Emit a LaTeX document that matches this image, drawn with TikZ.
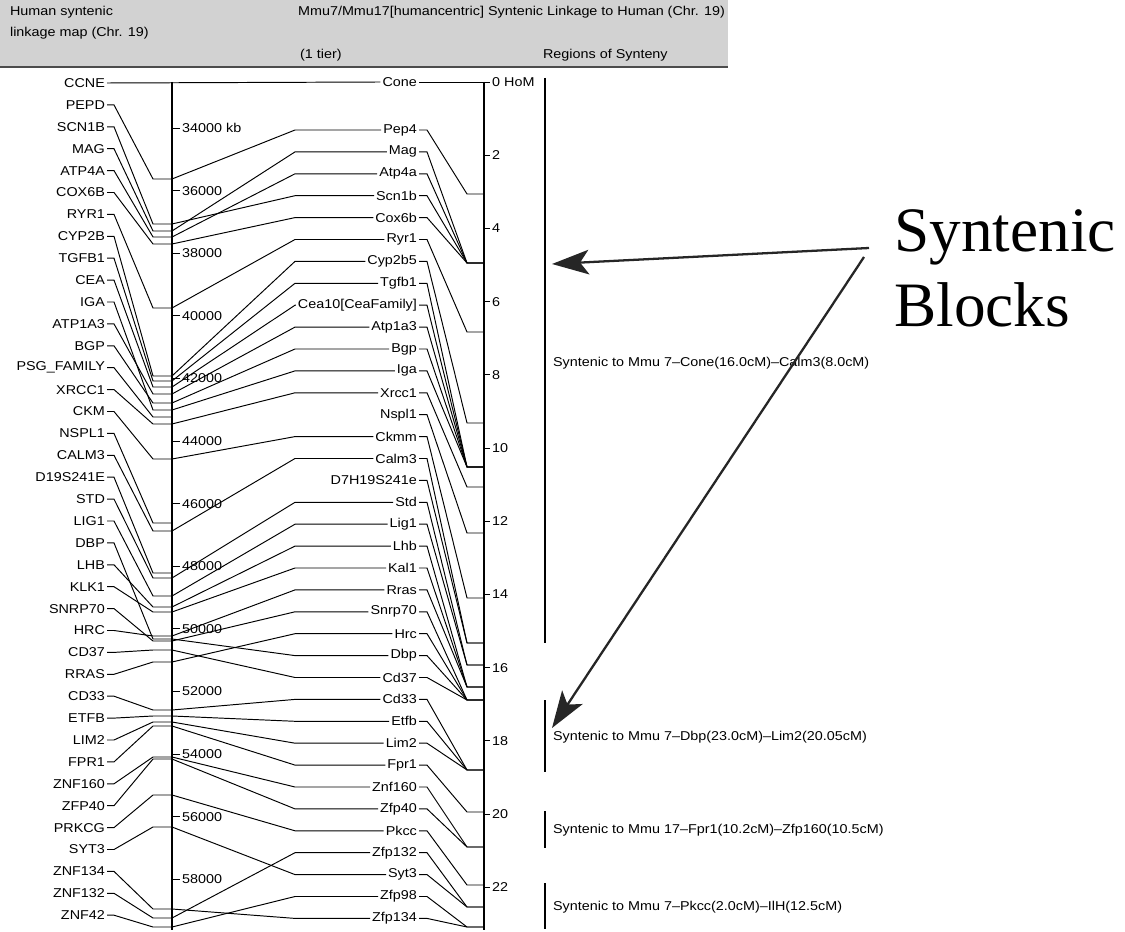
\documentclass[tikz,border=0pt]{standalone}
\usepackage{fontspec}
\setmainfont{Liberation Sans}[FakeStretch=1.12]
\newfontfamily\blockfont{Liberation Serif}
\usetikzlibrary{arrows.meta}

\begin{document}
\begin{tikzpicture}[x=0.02cm, y=-0.02cm,
    lab/.style={font=\fontsize{7.3}{8}\selectfont, inner sep=1pt},
    hdr/.style={font=\fontsize{7.3}{8}\selectfont, anchor=west, inner sep=1pt},
    tickl/.style={font=\fontsize{7.3}{8}\selectfont, anchor=west, inner sep=1pt},
    conn/.style={line width=0.55pt},
    chrom/.style={line width=1.6pt},
    >={Stealth[length=21pt, width=14pt, inset=5pt]}]
    \useasboundingbox (0,0) rectangle (1125,932);

    % Header
    \fill[gray!35] (0,0) rectangle (728,67);
    \draw[gray!60!black, line width=1pt] (0,67) -- (728,67);
    \node[hdr] (hdA) at (8,12) {Human syntenic};
    \node[hdr] (hdB) at (8,33) {linkage map (Chr. 19)};
    \node[hdr] (hdC) at (296,12) {Mmu7/Mmu17[humancentric] Syntenic Linkage to Human (Chr. 19)};
    \node[hdr] (hdD) at (298,55) {(1 tier)};
    \node[hdr] (hdE) at (541,55) {Regions of Synteny};

    % Axes
    \draw[chrom] (172,82) -- (172,930);
    \draw[chrom] (484,82) -- (484,930);
    \foreach \n in {0,...,12} {
        \pgfmathtruncatemacro\kb{34+2*\n}
        \draw[conn] (172,128+62.6*\n) -- ++(8,0) node[tickl] (kb\n) {\kb000\ifnum\n=0\ kb\fi};
    }
    \draw[conn] (484,82) -- ++(6,0) node[tickl] (cm0) {0 HoM};
    \foreach \n in {1,...,11} {
        \pgfmathtruncatemacro\cm{2*\n}
        \draw[conn] (484,82+73.2*\n) -- ++(6,0) node[tickl] (cm\n) {\cm};
    }

    \coordinate (kneeH) at (153,0);
    \coordinate (kneeL) at (295,0);
    \coordinate (kneeC) at (467,0);

    % Human genes
    \foreach \i/\gname/\ky in {1/CCNE/82, 2/PEPD/179, 3/SCN1B/224, 4/MAG/231, 5/ATP4A/237,
        6/COX6B/244, 7/RYR1/308, 8/CYP2B/376, 9/TGFB1/381, 10/CEA/387, 11/IGA/410,
        12/ATP1A3/394, 13/BGP/403, 14/PSG\_FAMILY/417, 15/XRCC1/424, 16/CKM/459,
        17/NSPL1/523, 18/CALM3/531, 19/D19S241E/573, 20/STD/578, 21/LIG1/596, 22/DBP/639,
        23/LHB/607, 24/KLK1/612, 25/SNRP70/641, 26/HRC/636, 27/CD37/650, 28/RRAS/662,
        29/CD33/710, 30/ETFB/716, 31/LIM2/722, 32/FPR1/726, 33/ZNF160/757, 34/ZFP40/759,
        35/PRKCG/795, 36/SYT3/827, 37/ZNF134/909, 38/ZNF132/918, 39/ZNF42/927} {
        \node[lab, anchor=east] (h\i) at (107,{83+21.9*(\i-1)}) {\gname};
        \coordinate (ka\i) at (172,\ky);
    }

    % Mouse genes
    \foreach \j/\gname/\cy in {1/Cone/82, 2/Pep4/194, 3/Mag/263, 4/Atp4a/263, 5/Scn1b/263,
        6/Cox6b/263, 7/Ryr1/332, 8/Cyp2b5/423, 9/Tgfb1/467, 10/{Cea10[CeaFamily]}/467,
        11/Atp1a3/467, 12/Bgp/467, 13/Iga/467, 14/Xrcc1/487, 15/Nspl1/533, 16/Ckmm/598,
        17/Calm3/643, 18/D7H19S241e/643, 19/Std/665, 20/Lig1/665, 21/Lhb/687, 22/Kal1/687,
        23/Rras/687, 24/Snrp70/700, 25/Hrc/700, 26/Dbp/700, 27/Cd37/700, 28/Cd33/770,
        29/Etfb/770, 30/Lim2/770, 31/Fpr1/812, 32/Znf160/847, 33/Zfp40/847, 34/Pkcc/885,
        35/Zfp132/907, 36/Syt3/907, 37/Zfp98/927, 38/Zfp134/927} {
        \pgfmathsetmacro\my{ifthenelse(\j==1,82,130+21.9*(\j-2))}
        \node[lab, anchor=east] (m\j) at (419,\my) {\gname};
        \coordinate (ca\j) at (484,\cy);
    }

    % Connectors
    \draw[conn] (h1.east) -- (m1.west);
    \draw[conn] (m1.east) -- (ca1);
    \foreach \i in {2,...,39}
        \draw[conn] (h\i.east) -- ++(7,0) -- (ka\i -| kneeH) -- (ka\i);
    \foreach \j in {2,...,38}
        \draw[conn] (m\j.east) -- ++(8,0) -- (ca\j -| kneeC) -- (ca\j);
    \foreach \i/\j in {2/2, 3/5, 4/3, 5/4, 6/6, 7/7, 8/8, 9/9, 10/10, 11/13, 12/11, 13/12,
        15/14, 16/16, 18/17, 20/19, 21/20, 22/26, 23/21, 24/22, 25/24, 26/23, 27/27,
        28/25, 29/28, 30/29, 31/30, 32/31, 33/32, 34/33, 35/34, 36/36, 37/38, 38/35, 39/37}
        \draw[conn] (ka\i) -- (m\j.west -| kneeL) -- (m\j.west);

    % Regions of synteny
    \draw[line width=1pt] (545,78) -- (545,643);
    \draw[line width=1pt] (545,700) -- (545,772);
    \draw[line width=1pt] (545,811) -- (545,848);
    \draw[line width=1pt] (545,883) -- (545,929);
    \node[lab, anchor=west] (syn1) at (551,363) {Syntenic to Mmu 7--Cone(16.0cM)--Calm3(8.0cM)};
    \node[lab, anchor=west] (syn2) at (551,737) {Syntenic to Mmu 7--Dbp(23.0cM)--Lim2(20.05cM)};
    \node[lab, anchor=west] (syn3) at (551,830) {Syntenic to Mmu 17--Fpr1(10.2cM)--Zfp160(10.5cM)};
    \node[lab, anchor=west] (syn4) at (551,907) {Syntenic to Mmu 7--Pkcc(2.0cM)--IlH(12.5cM)};

    % Blocks
    \node[font=\blockfont\fontsize{36}{40}\selectfont, anchor=base west, inner sep=0pt] (blk1) at (894,252) {Syntenic};
    \node[font=\blockfont\fontsize{36}{40}\selectfont, anchor=base west, inner sep=0pt] (blk2) at (894,327) {Blocks};
    \coordinate (srcA) at (869,248);
    \coordinate (srcB) at (864,257);
    \coordinate (tipA) at (552,264);
    \coordinate (tipB) at (552,728);
    \draw[->, line width=1.3pt, black!85] (srcA) -- (tipA);
    \draw[->, line width=1.3pt, black!85] (srcB) -- (tipB);
\end{tikzpicture}
\end{document}
